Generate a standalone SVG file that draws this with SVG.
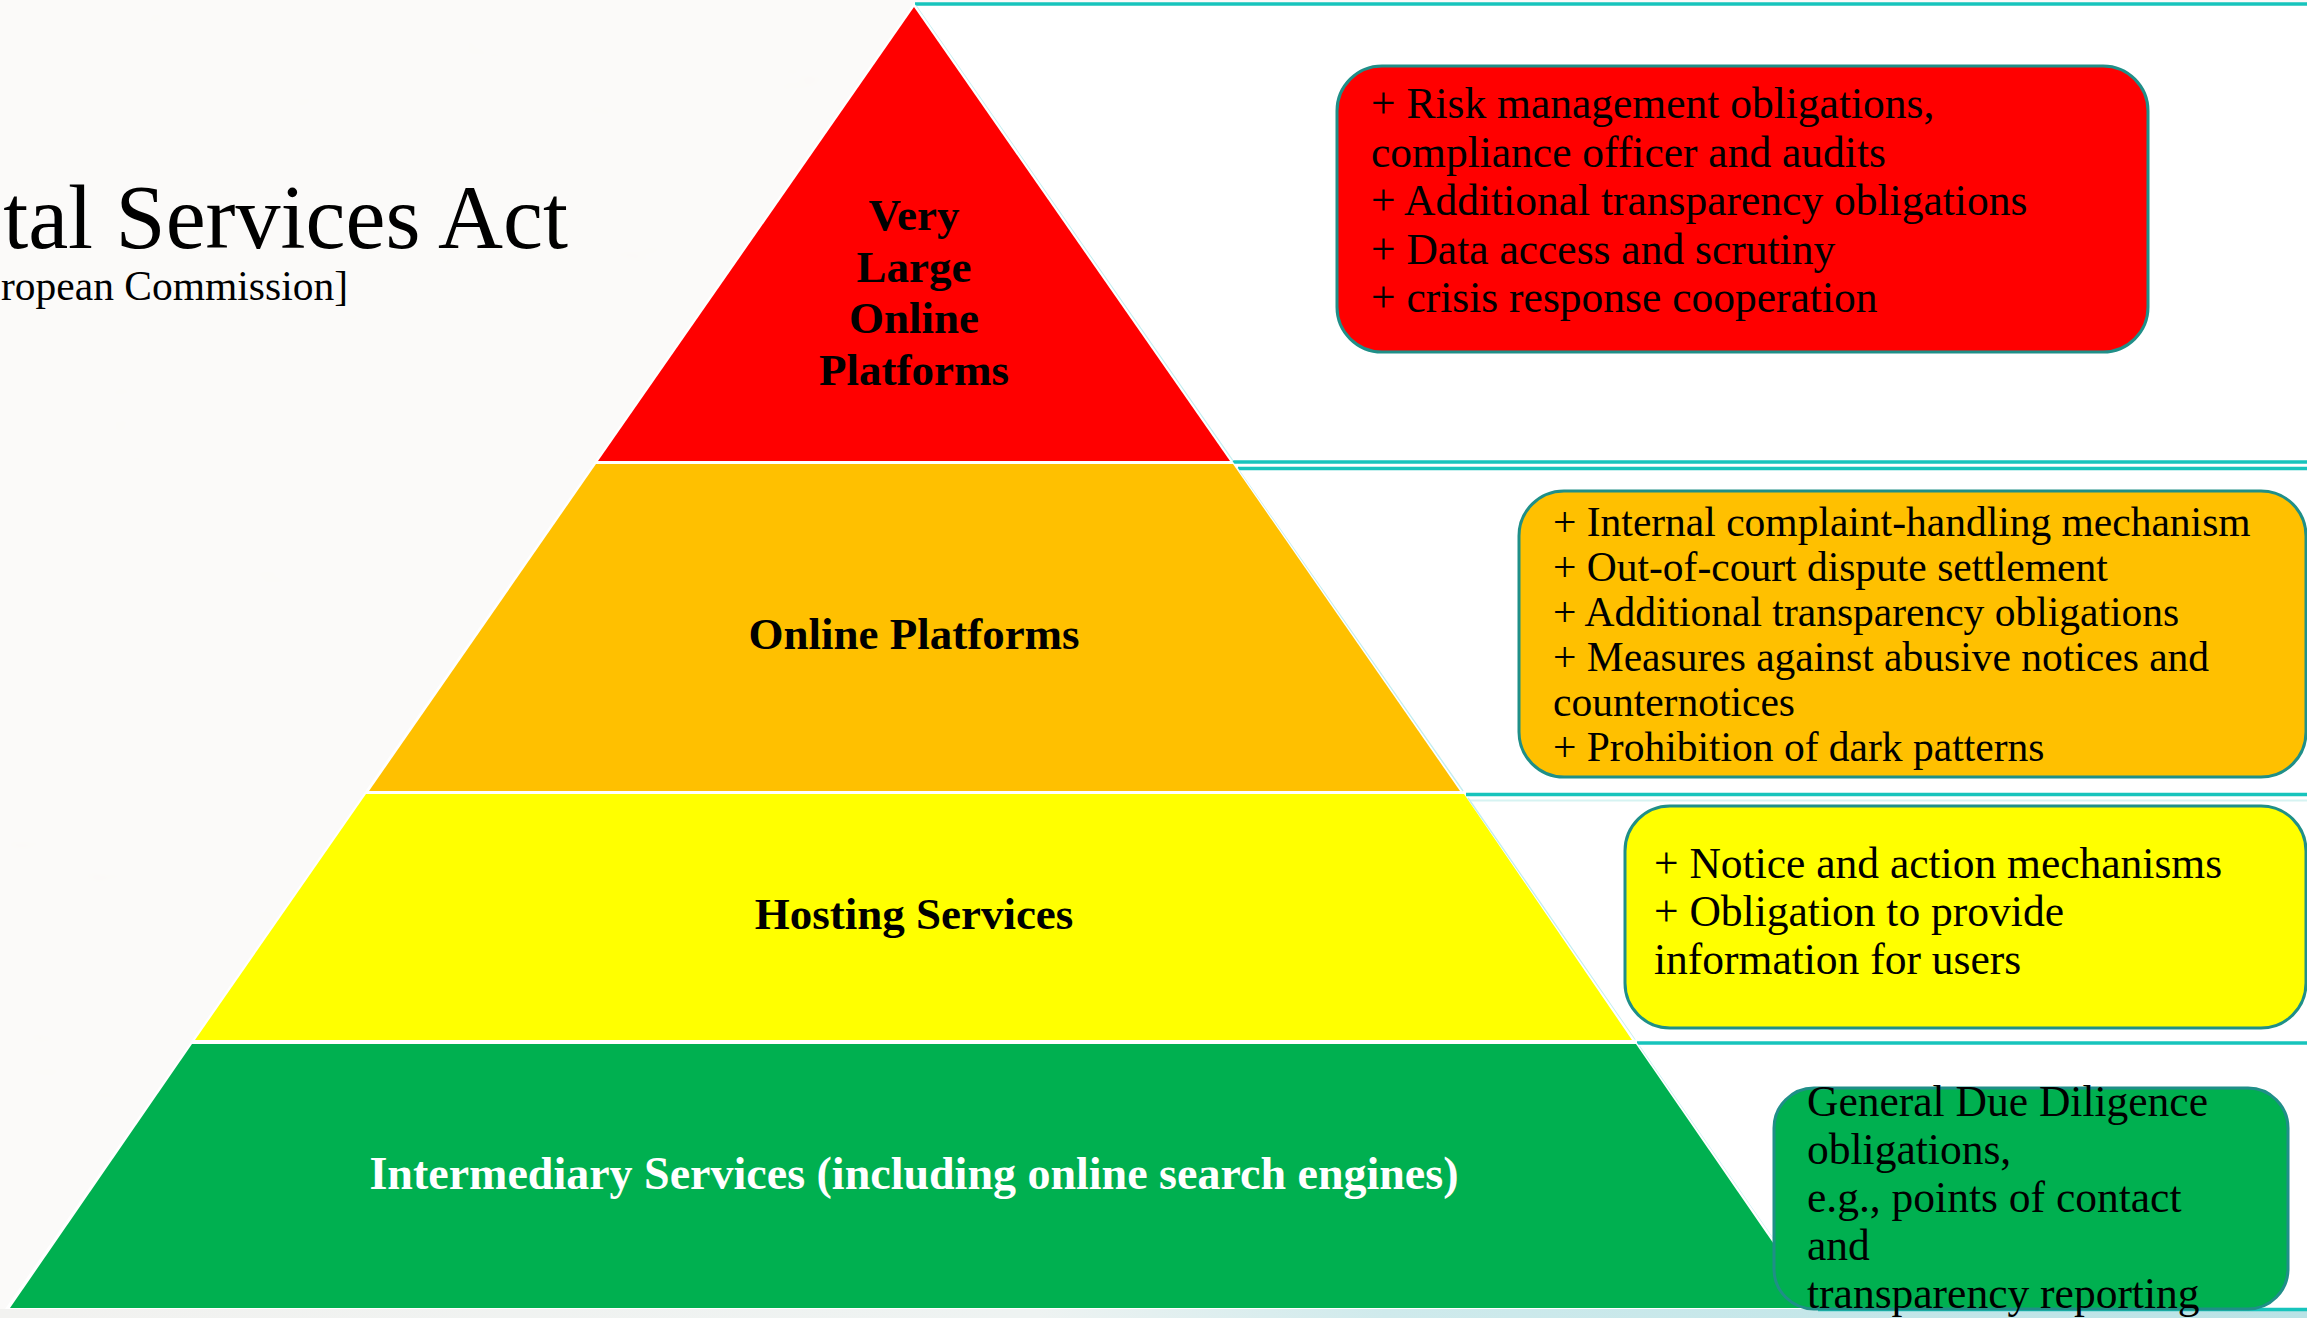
<svg xmlns="http://www.w3.org/2000/svg" width="2307" height="1318" viewBox="0 0 2307 1318">
  <defs>
    <linearGradient id="strip" x1="0" y1="0" x2="1" y2="0">
      <stop offset="0" stop-color="#f2f2f0"/>
      <stop offset="0.45" stop-color="#eef3f2"/>
      <stop offset="0.6" stop-color="#cfeaec"/>
      <stop offset="1" stop-color="#b9e3e6"/>
    </linearGradient>
    <filter id="paper" x="0" y="0" width="100%" height="100%">
      <feTurbulence type="fractalNoise" baseFrequency="0.012 0.03" numOctaves="3" seed="4" result="n"/>
      <feColorMatrix in="n" type="matrix" values="0 0 0 0 0.94  0 0 0 0 0.93  0 0 0 0 0.92  0 0 0 0.22 -0.02"/>
    </filter>
  </defs>
  <style>
    .title { font-family: "Liberation Serif", "Times New Roman", serif; fill: #000; }
    .tier { font-family: "Liberation Serif", "Times New Roman", serif; font-weight: bold; font-size: 45px; text-anchor: middle; fill: #000; }
    .box { stroke: #1f8f88; stroke-width: 3; }
    .body { font-family: "Liberation Serif", "Times New Roman", serif; fill: #000; }
    .teal { stroke: #17c4bc; stroke-width: 3.5; fill: none; }
    .edge { stroke: #c4eef0; stroke-width: 1.5; fill: none; }
  </style>

  <!-- background -->
  <rect x="0" y="0" width="2307" height="1318" fill="#fbfaf9"/>
  <rect x="0" y="0" width="2307" height="1318" filter="url(#paper)"/>
  <rect x="914" y="4" width="1393" height="1305" fill="#ffffff"/>
  <rect x="0" y="1309" width="2307" height="9" fill="url(#strip)"/>

  <!-- row borders -->
  <g id="panels">
    <line class="teal" x1="915" y1="4" x2="2307" y2="4"/>
    <line class="teal" x1="1232" y1="462" x2="2307" y2="462"/>
    <line class="teal" x1="1238" y1="468.5" x2="2307" y2="468.5"/>
    <line class="teal" x1="1466" y1="794.5" x2="2307" y2="794.5"/>
    <line x1="1470" y1="800.5" x2="2307" y2="800.5" stroke="#d6f3f2" stroke-width="2"/>
    <line class="teal" x1="1637" y1="1043" x2="2307" y2="1043"/>
    <line class="teal" x1="1818" y1="1309.5" x2="2307" y2="1309.5"/>
    <polyline class="edge" points="916,6 1233,461"/>
    <polyline class="edge" points="1237,468 1463,791"/>
    <polyline class="edge" points="1468,798 1635,1040"/>
    <polyline class="edge" points="1639,1046 1821,1308"/>
  </g>

  <!-- title -->
  <g id="title">
    <text class="title" x="568" y="248" font-size="90" text-anchor="end">tal Services Act</text>
    <text class="title" x="348" y="300" font-size="41.5" text-anchor="end">ropean Commission]</text>
  </g>

  <!-- pyramid backing -->
  <polygon points="914,3 5,1309 1822,1309" fill="#ffffff"/>

  <g id="tier-vlop">
    <polygon points="914,7 598,461 1230,461" fill="#ff0000"/>
    <text class="tier" x="914" y="230">Very</text>
    <text class="tier" x="914" y="282">Large</text>
    <text class="tier" x="914" y="333">Online</text>
    <text class="tier" x="914" y="385">Platforms</text>
  </g>

  <g id="tier-online-platforms">
    <polygon points="596,464 1233,464 1460,791 369,791" fill="#ffc000"/>
    <text class="tier" x="914" y="649">Online Platforms</text>
  </g>

  <g id="tier-hosting">
    <polygon points="366,794 1464,794 1632,1040 195,1040" fill="#ffff00"/>
    <text class="tier" x="914" y="929">Hosting Services</text>
  </g>

  <g id="tier-intermediary">
    <polygon points="192,1044 1636,1044 1818,1308 10,1308" fill="#00b050"/>
    <text class="tier" x="914" y="1189" style="fill:#ffffff;font-size:46px">Intermediary Services (including online search engines)</text>
  </g>

  <!-- obligation boxes -->
  <g id="box-vlop">
    <rect class="box" x="1337" y="66" width="811" height="286" rx="45" ry="45" fill="#ff0000"/>
    <text class="body" font-size="43.5" x="1371">
      <tspan x="1371" y="118">+ Risk management obligations,</tspan>
      <tspan x="1371" y="166.5">compliance officer and audits</tspan>
      <tspan x="1371" y="215">+ Additional transparency obligations</tspan>
      <tspan x="1371" y="263.5">+ Data access and scrutiny</tspan>
      <tspan x="1371" y="312">+ crisis response cooperation</tspan>
    </text>
  </g>

  <g id="box-online-platforms">
    <rect class="box" x="1519" y="491" width="787" height="286" rx="45" ry="45" fill="#ffc000"/>
    <text class="body" font-size="41.5" x="1553">
      <tspan x="1553" y="535.5">+ Internal complaint-handling mechanism</tspan>
      <tspan x="1553" y="580.5">+ Out-of-court dispute settlement</tspan>
      <tspan x="1553" y="625.5">+ Additional transparency obligations</tspan>
      <tspan x="1553" y="670.5">+ Measures against abusive notices and</tspan>
      <tspan x="1553" y="715.5">counternotices</tspan>
      <tspan x="1553" y="760.5">+ Prohibition of dark patterns</tspan>
    </text>
  </g>

  <g id="box-hosting">
    <rect class="box" x="1625" y="806" width="681" height="222" rx="45" ry="45" fill="#ffff00"/>
    <text class="body" font-size="43.5" x="1654">
      <tspan x="1654" y="878">+ Notice and action mechanisms</tspan>
      <tspan x="1654" y="926">+ Obligation to provide</tspan>
      <tspan x="1654" y="974">information for users</tspan>
    </text>
  </g>

  <g id="box-intermediary">
    <rect class="box" x="1774" y="1088" width="514" height="221" rx="40" ry="40" fill="#00b050"/>
    <text class="body" font-size="43.5" x="1807">
      <tspan x="1807" y="1116">General Due Diligence</tspan>
      <tspan x="1807" y="1164">obligations,</tspan>
      <tspan x="1807" y="1212">e.g., points of contact</tspan>
      <tspan x="1807" y="1260">and</tspan>
      <tspan x="1807" y="1308">transparency reporting</tspan>
    </text>
  </g>
</svg>
